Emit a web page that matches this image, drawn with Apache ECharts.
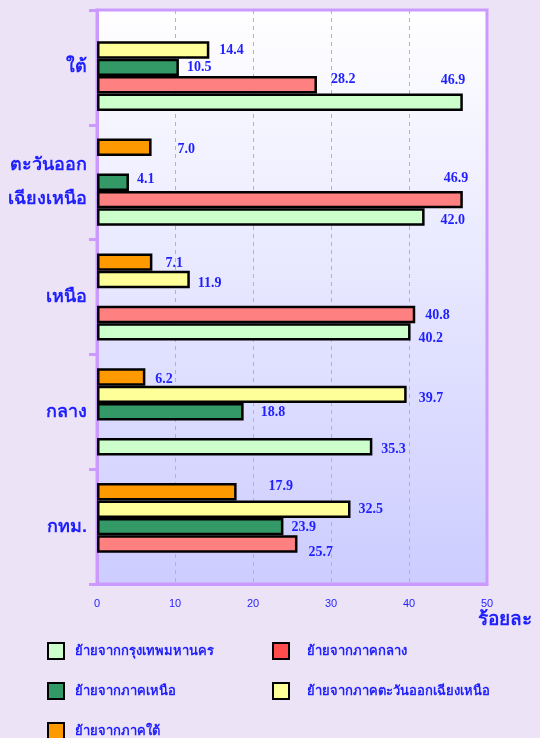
<!DOCTYPE html>
<html>
<head>
<meta charset="utf-8">
<script src="https://cdn.jsdelivr.net/npm/echarts@6/dist/echarts.min.js"></script>
<style>
html,body{margin:0;padding:0;background:#ece4f6;}
#c{width:540px;height:738px;}
</style>
</head>
<body>
<div id="c"></div>
<script>
// Categories (bottom to top)
const categories = ['กทม.', 'กลาง', 'เหนือ', 'ตะวันออก\nเฉียงเหนือ', 'ใต้'];
const xTicks = [0, 10, 20, 30, 40, 50];
const seriesNames = ['ย้ายจากกรุงเทพมหานคร', 'ย้ายจากภาคกลาง', 'ย้ายจากภาคเหนือ', 'ย้ายจากภาคตะวันออกเฉียงเหนือ', 'ย้ายจากภาคใต้'];
// Values per series, in category order above (null = no bar)
const fromBangkok = [null, 35.3, 40.2, 42.0, 46.9];
const fromCentral = [25.7, null, 40.8, 46.9, 28.2];
const fromNorth = [23.9, 18.8, null, 4.1, 10.5];
const fromNortheast = [32.5, 39.7, 11.9, null, 14.4];
const fromSouth = [17.9, 6.2, 7.1, 7.0, null];

// Styling (not data)
const barColors = ['#ccffcc', '#ff8080', '#339966', '#ffff99', '#ff9900'];
const legendColors = ['#ccffcc', '#ff4d4d', '#339966', '#ffff99', '#ff9900'];
const labelNudges = [
  [null, [4,3], [3,6], [11,3], [-27,-22]],
  [[6,8], null, [5,1], [-24,-21], [9,-5]],
  [[3,1], [12,1], null, [3,-3], [3,0]],
  [[3,0], [7,4], [3,4], null, [5,0]],
  [[27,-5], [5,2], [8,1], [21,2], null]
];
const legendPos = [[47,642],[272,642],[47,682],[272,682],[47,722]];
const legendTextPad = [6,13,6,13,6];

const allValues = [fromBangkok, fromCentral, fromNorth, fromNortheast, fromSouth];
const blue = '#1f1fff';

// series drawn in reverse so that south is at the top within each group
const order = [4,3,2,1,0];
const series = order.map(si => ({
  name: seriesNames[si],
  type: 'bar',
  barCategoryGap: '24%',
  barGap: '0%',
  itemStyle: { color: barColors[si], borderColor: '#000', borderWidth: 2.5 },
  label: {
    show: true, position: 'right', distance: 5,
    color: blue, fontFamily: '"Liberation Serif", "DejaVu Serif", serif', fontWeight: 'bold', fontSize: 14,
    formatter: p => Number(p.value).toFixed(1)
  },
  data: allValues[si].map((v, i) => v == null ? '-' : { value: v, label: { offset: labelNudges[si][i] } })
}));

const legends = seriesNames.map((n, i) => ({
  left: legendPos[i][0], top: legendPos[i][1],
  padding: 0,
  orient: 'horizontal',
  itemWidth: 16, itemHeight: 16,
  icon: 'rect',
  selectedMode: false,
  data: [{ name: n, itemStyle: { color: legendColors[i], borderColor: '#000', borderWidth: 2 } }],
  textStyle: { color: blue, fontSize: 13, fontWeight: 'bold', padding: [0,0,0,legendTextPad[i]], fontFamily: 'sans-serif' }
}));

const chart = echarts.init(document.getElementById('c'), null, { renderer: 'canvas' });
chart.setOption({
  backgroundColor: '#ece4f6',
  animation: false,
  grid: {
    left: 97, right: 53, top: 10, bottom: 154,
    outerBoundsMode: 'none',
    containLabel: false,
    show: true,
    backgroundColor: new echarts.graphic.LinearGradient(0, 0, 0, 1, [
      { offset: 0, color: '#ffffff' }, { offset: 1, color: '#ccccff' }
    ]),
    borderColor: '#cc99ff', borderWidth: 3
  },
  legend: legends,
  xAxis: {
    type: 'value', min: xTicks[0], max: xTicks[xTicks.length - 1], interval: 10,
    axisLine: { show: true, lineStyle: { color: '#cc99ff', width: 3 } },
    axisTick: { show: false },
    splitLine: { show: true, lineStyle: { color: '#cc99ff', type: [4, 4], width: 1 } },
    axisLabel: { color: blue, fontSize: 11, margin: 14, fontFamily: 'sans-serif' },
    name: 'ร้อยละ', nameLocation: 'end', nameGap: -9,
    nameTextStyle: { color: blue, fontSize: 19, fontWeight: 'bold', verticalAlign: 'top', padding: [26, 0, 0, 0], fontFamily: 'sans-serif' }
  },
  yAxis: {
    type: 'category', data: categories,
    axisLine: { show: true, lineStyle: { color: '#cc99ff', width: 3 } },
    axisTick: { show: true, length: 8, interval: 0, lineStyle: { color: '#cc99ff', width: 3 } },
    axisLabel: { color: blue, fontSize: 18, fontWeight: 'bold', margin: 10, lineHeight: 34, align: 'right', fontFamily: 'sans-serif' }
  },
  series: series
});
</script>
</body>
</html>
